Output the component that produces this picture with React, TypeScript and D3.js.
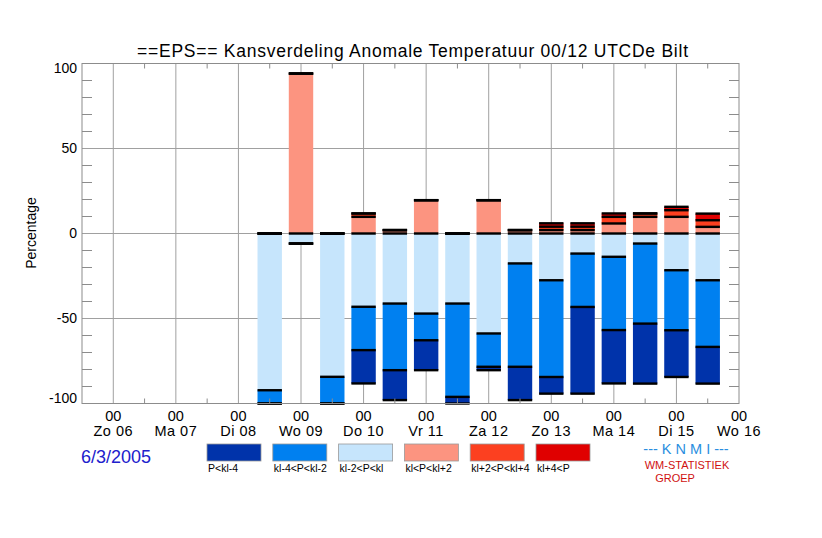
import React from 'react'
import * as d3 from 'd3'

// forecast slots (00 and 12 UTC), position in days of the month
const slotLabels = [
  'Di 08 12', 'Wo 09 00', 'Wo 09 12', 'Do 10 00', 'Do 10 12', 'Vr 11 00', 'Vr 11 12',
  'Za 12 00', 'Za 12 12', 'Zo 13 00', 'Zo 13 12', 'Ma 14 00', 'Ma 14 12', 'Di 15 00', 'Di 15 12',
]
const slotDays = [8.5, 9, 9.5, 10, 10.5, 11, 11.5, 12, 12.5, 13, 13.5, 14, 14.5, 15, 15.5]

const dayTicks = [6, 7, 8, 9, 10, 11, 12, 13, 14, 15, 16]
const dayNames = ['Zo 06', 'Ma 07', 'Di 08', 'Wo 09', 'Do 10', 'Vr 11', 'Za 12', 'Zo 13', 'Ma 14', 'Di 15', 'Wo 16']
const yTicks = [100, 50, 0, -50, -100]

// percentages of the ensemble per class
const pBelow4 = [0, 0, 0, 19.6, 17.6, 17.6, 3.9, 2.0, 19.6, 9.8, 51.0, 31.4, 35.3, 27.5, 21.6]
const pBelow2 = [7.8, 0, 15.7, 25.5, 39.2, 15.7, 54.9, 19.6, 60.8, 56.9, 31.4, 43.1, 47.1, 35.3, 39.2]
const pBelow0 = [92.2, 5.9, 84.3, 43.1, 41.2, 47.1, 41.2, 58.8, 17.6, 27.5, 11.8, 13.7, 5.9, 21.6, 27.5]
const pAbove0 = [0, 94.1, 0, 9.8, 2.0, 19.6, 0, 19.6, 2.0, 2.0, 2.0, 5.9, 9.8, 9.8, 3.9]
const pAbove2 = [0, 0, 0, 2.0, 0, 0, 0, 0, 0, 2.0, 2.0, 3.9, 2.0, 3.9, 3.9]
const pAbove4 = [0, 0, 0, 0, 0, 0, 0, 0, 0, 2.0, 2.0, 2.0, 0, 2.0, 3.9]

const legendLabels = ['P<kl-4', 'kl-4<P<kl-2', 'kl-2<P<kl', 'kl<P<kl+2', 'kl+2<P<kl+4', 'kl+4<P']
const legendColors = ['#0033aa', '#0080f0', '#c6e5fc', '#fc9480', '#fc4020', '#e00000']

const FONT = '"Liberation Sans", Arial, Helvetica, sans-serif'

export default function App() {
  const left = 82, right = 739, top = 63.5, bottom = 403.5
  const x = d3.scaleLinear().domain([5.5, 16]).range([left, right])
  const y = d3.scaleLinear().domain([-100, 100]).range([bottom, top])
  const halfDay = x(6.5) - x(6)
  const barW = halfDay * 0.78
  const lineH = 2.4

  const negSeries = [pBelow0, pBelow2, pBelow4]
  const negColors = [legendColors[2], legendColors[1], legendColors[0]]
  const posSeries = [pAbove0, pAbove2, pAbove4]
  const posColors = [legendColors[3], legendColors[4], legendColors[5]]

  const minorY = d3.range(-90, 100, 10).filter(v => v % 50 !== 0)
  const minorX = d3.range(6.5, 16, 1)

  return (
    <svg width={822} height={538} style={{ position: 'absolute', left: 0, top: 0, background: '#fff' }} fontFamily={FONT}>
      <text x={412.5} y={57} textAnchor="middle" fontSize={17.5} textLength={551} lengthAdjust="spacing">
        ==EPS== Kansverdeling Anomale Temperatuur 00/12 UTCDe Bilt
      </text>

      {/* grid */}
      {dayTicks.slice(0, -1).map(d => (
        <line key={'gx' + d} x1={x(d)} x2={x(d)} y1={top} y2={bottom} stroke="#a0a0a0" strokeWidth={1} />
      ))}
      {[50, 0, -50].map(v => (
        <line key={'gy' + v} x1={left} x2={right} y1={y(v)} y2={y(v)} stroke="#a0a0a0" strokeWidth={1} />
      ))}

      {/* bars */}
      {slotDays.map((d, i) => {
        const cx = x(d)
        const x0 = cx - barW / 2
        const rects: React.ReactElement[] = []
        const edges: number[] = [0]
        let acc = 0
        negSeries.forEach((s, k) => {
          const v = s[i]
          if (v > 0) rects.push(<rect key={'n' + k} x={x0} width={barW} y={y(-acc)} height={y(-acc - v) - y(-acc)} fill={negColors[k]} />)
          acc += v
          edges.push(-acc)
        })
        acc = 0
        posSeries.forEach((s, k) => {
          const v = s[i]
          if (v > 0) rects.push(<rect key={'p' + k} x={x0} width={barW} y={y(acc + v)} height={y(acc) - y(acc + v)} fill={posColors[k]} />)
          acc += v
          edges.push(acc)
        })
        return (
          <g key={slotLabels[i]}>
            {rects}
            {edges.map((e, k) => (
              <rect key={'e' + k} x={x0} width={barW} y={y(e) - lineH / 2} height={lineH} fill="#000" />
            ))}
          </g>
        )
      })}

      {/* frame and minor ticks */}
      <rect x={left} y={top} width={right - left} height={bottom - top} fill="none" stroke="#8c8c8c" strokeWidth={1} />
      {minorY.map(v => (
        <g key={'my' + v} stroke="#8c8c8c">
          <line x1={left} x2={left + 10} y1={y(v)} y2={y(v)} />
          <line x1={right - 10} x2={right} y1={y(v)} y2={y(v)} />
        </g>
      ))}
      {minorX.map(d => (
        <g key={'mx' + d} stroke="#8c8c8c">
          <line x1={x(d)} x2={x(d)} y1={top} y2={top + 5} />
          <line x1={x(d)} x2={x(d)} y1={bottom - 5} y2={bottom} />
        </g>
      ))}

      {/* y axis labels */}
      {yTicks.map(v => (
        <text key={'yl' + v} x={77} y={Math.min(Math.max(y(v), 68), 398)} dy="0.35em" textAnchor="end" fontSize={14}>
          {v}
        </text>
      ))}
      <text transform="translate(36,233) rotate(-90)" textAnchor="middle" fontSize={14}>Percentage</text>

      {/* x axis labels */}
      {dayTicks.map((d, i) => (
        <g key={'xl' + d}>
          <text x={x(d)} y={421} textAnchor="middle" fontSize={14.5}>00</text>
          <text x={x(d)} y={436} textAnchor="middle" fontSize={14.5} letterSpacing={0.5}>{dayNames[i]}</text>
        </g>
      ))}

      {/* footer */}
      <text x={81} y={463} fontSize={18} fill="#2020cc">6/3/2005</text>
      {legendLabels.map((lab, i) => {
        const lx = 207 + i * 65.8
        return (
          <g key={lab}>
            <rect x={lx} y={444} width={54} height={17} fill={legendColors[i]} stroke="#9a9a9a" strokeWidth={0.8} />
            <text x={lx + 1} y={471.5} fontSize={10.5}>{lab}</text>
          </g>
        )
      })}
      <text x={686} y={454} textAnchor="middle" fontSize={14.5} fill="#2a8ee0">--- K N M I ---</text>
      <text x={687} y={468.5} textAnchor="middle" fontSize={11} fill="#d01010">WM-STATISTIEK</text>
      <text x={675} y={481.5} textAnchor="middle" fontSize={11} fill="#d01010">GROEP</text>
    </svg>
  )
}
